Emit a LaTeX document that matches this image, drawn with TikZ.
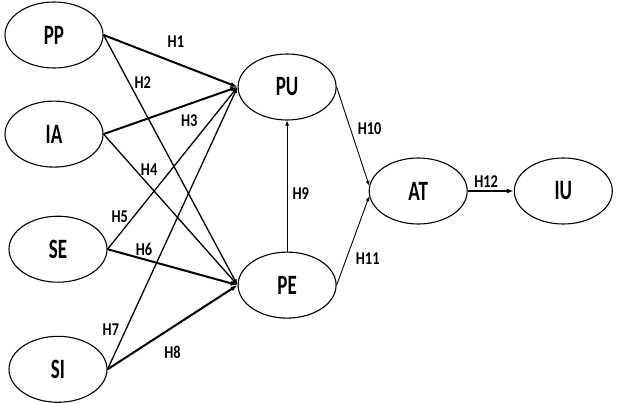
\documentclass[tikz,border=0pt]{standalone}
\usepackage{fontspec}
\setmainfont{Carlito}
\newfontfamily\nodefont[FakeStretch=0.68]{Carlito}
\newfontfamily\labelfont[FakeStretch=0.8]{Carlito}
\usetikzlibrary{positioning,arrows.meta,shapes.geometric}

\begin{document}
\begin{tikzpicture}[
    node distance=30pt and 130pt,
    construct/.style={
        draw,
        ellipse,
        line width=1.1pt,
        minimum width=98pt,
        minimum height=66pt,
        inner sep=0pt,
        font=\nodefont\bfseries\fontsize{28}{30}\selectfont
    },
    hyp/.style={font=\labelfont\bfseries\fontsize{18}{20}\selectfont, inner sep=1pt},
    strong/.style={-{Latex[length=7pt,width=5pt]}, line width=2pt},
    cross/.style={-{Latex[length=6pt,width=4.5pt]}, line width=1.3pt},
    weak/.style={-{Latex[length=5pt,width=4pt]}, line width=0.9pt}
]
\useasboundingbox (0,0) rectangle (617pt,-402pt);

\node[construct] (pp) at (54pt,-35pt) {PP};
\node[construct, below=32pt of pp] (ia) {IA};
\node[construct, below=48pt of ia, xshift=4pt] (se) {SE};
\node[construct, below=53pt of se] (si) {SI};
\node[construct, right=134pt of pp, yshift=-52pt] (pu) {PU};
\node[construct, below=131pt of pu] (pe) {PE};
\node[construct, right=32pt of pu, yshift=-104pt] (at) {AT};
\node[construct, right=46pt of at] (iu) {IU};

\draw[strong] (pp.east) -- node[hyp, pos=0.54, above=14pt] {H1} (pu.west);
\draw[cross] (pp.east) -- node[hyp, pos=0.19, right=4pt] {H2} (pe.west);
\draw[strong] (ia.east) -- node[hyp, pos=0.64, below=9pt] {H3} (pu.west);
\draw[cross] (ia.east) -- node[hyp, pos=0.34, above=8pt] {H4} (pe.west);
\draw[cross] (se.east) -- node[hyp, pos=0.2, left=4pt] {H5} (pu.west);
\draw[strong] (se.east) -- node[hyp, pos=0.28, above=2pt] {H6} (pe.west);
\draw[cross] (si.east) -- node[hyp, pos=0.14, left=5pt] {H7} (pu.west);
\draw[strong] (si.east) -- node[hyp, pos=0.5, below=17pt] {H8} (pe.west);
\draw[weak] (pe.north) -- node[hyp, pos=0.44, right=4pt] {H9} (pu.south);
\draw[weak] (pu.east) -- node[hyp, pos=0.42, right=6pt] {H10} (at.174);
\draw[weak] (pe.east) -- node[hyp, pos=0.3, right=8pt] {H11} (at.186);
\draw[strong] (at.east) -- node[hyp, pos=0.4, above=2pt] {H12} (iu.west);

\end{tikzpicture}
\end{document}
